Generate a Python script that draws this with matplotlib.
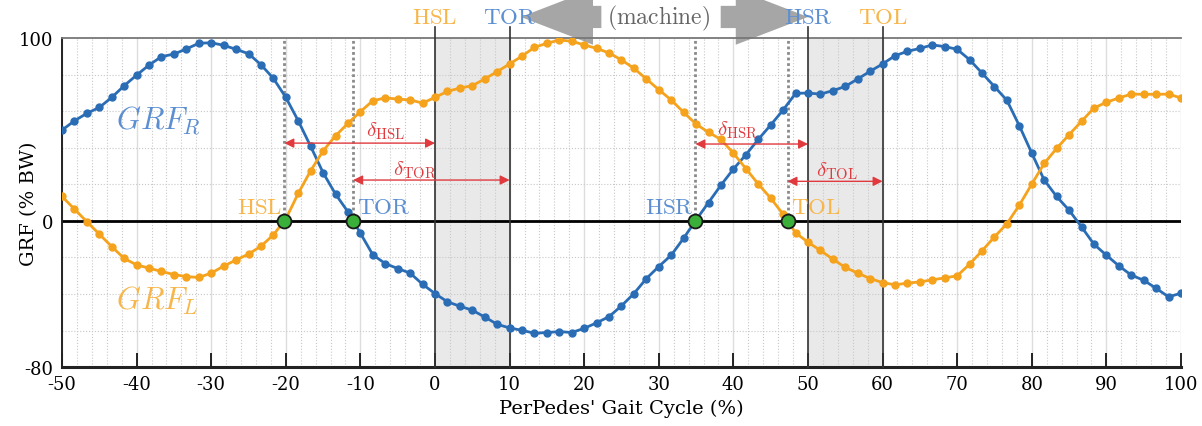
#!/usr/bin/env python3
import numpy as np
import matplotlib
matplotlib.use('Agg')
import matplotlib.pyplot as plt

plt.rcParams['font.family'] = ['DejaVu Serif']
plt.rcParams['mathtext.fontset'] = 'cm'
plt.rcParams['axes.unicode_minus'] = False

# ground reaction forces (% BW), sampled evenly from -50 % to 100 % gait cycle
grf_r = [49.6, 54.7, 58.8, 62.0, 67.5, 73.9, 79.7, 85.2, 89.8, 91.2,
         94.0, 97.1, 97.4, 96.0, 93.8, 91.4, 85.4, 77.9, 67.5, 54.7,
         40.7, 26.3, 14.6, 4.9, -6.8, -18.6, -23.4, -26.1, -28.6, -34.7,
         -39.8, -44.3, -46.7, -48.9, -52.6, -56.6, -58.6, -59.9, -61.5, -61.1,
         -60.6, -61.1, -58.8, -55.8, -52.4, -46.5, -39.8, -31.6, -25.0, -18.8,
         -9.5, 0.5, 10.0, 19.5, 28.3, 36.1, 44.5, 52.4, 60.6, 69.7,
         69.9, 69.3, 71.2, 73.5, 77.6, 81.8, 85.8, 90.3, 92.7, 94.3,
         96.2, 95.3, 93.8, 88.1, 80.8, 73.4, 65.9, 52.0, 37.0, 22.3,
         13.3, 5.8, -3.3, -12.8, -18.8, -24.6, -29.7, -32.5, -36.9, -41.6,
         -39.6]
grf_l = [13.3, 6.4, -0.5, -7.3, -14.1, -20.6, -24.1, -25.9, -27.7, -29.4,
         -30.5, -31.0, -28.6, -24.8, -21.4, -18.2, -13.9, -7.7, 1.0, 15.0,
         27.4, 38.3, 46.5, 53.3, 59.7, 65.7, 67.2, 66.6, 66.1, 64.4,
         67.5, 70.8, 72.6, 73.9, 77.6, 81.6, 85.8, 90.1, 94.9, 97.1,
         98.9, 98.2, 96.2, 94.3, 91.8, 88.0, 83.4, 77.6, 71.7, 66.1,
         59.3, 52.9, 48.4, 44.5, 37.0, 28.6, 20.1, 12.4, 3.6, -6.6,
         -11.7, -16.2, -21.0, -25.5, -28.6, -31.6, -33.8, -35.0, -34.1, -33.4,
         -32.3, -31.2, -30.1, -23.7, -16.4, -8.8, -1.6, 8.6, 20.1, 31.4,
         39.6, 47.1, 54.4, 61.7, 64.8, 67.2, 69.3, 69.2, 69.2, 69.3,
         67.2]

# gait events detected by the machine (% gait cycle)
machine_names = ['HSL', 'TOR', 'HSR', 'TOL']
machine_pos = [0, 10, 50, 60]

# delta annotation: arrow height, label x, label y
delta_arrow_y = [42.5, 22.3, 42.0, 21.6]
delta_text_x = [-6.7, -2.7, 40.5, 53.8]
delta_text_y = [49.6, 28.3, 50.0, 27.7]

BLUE = '#2a6db5'
ORANGE = '#f5a21d'
BLUE_TXT = '#5b8fd2'
ORANGE_TXT = '#f8b64a'
RED = '#e0393e'


def crossing(x, y, lo, hi):
    x = np.asarray(x)
    y = np.asarray(y)
    for i in range(len(x) - 1):
        if lo <= x[i] <= hi and np.sign(y[i]) != np.sign(y[i + 1]):
            return x[i] + (x[i + 1] - x[i]) * y[i] / (y[i] - y[i + 1])
    return None


def run():
    x = np.linspace(-50, 100, len(grf_r))

    # events from zero crossings of the force curves
    hsl = crossing(x, grf_l, -30, 0)
    tor = crossing(x, grf_r, -30, 0)
    hsr = crossing(x, grf_r, 20, 50)
    tol = crossing(x, grf_l, 20, 50)
    events = [hsl, tor, hsr, tol]
    ev_colors = [ORANGE_TXT, BLUE_TXT, BLUE_TXT, ORANGE_TXT]

    fig = plt.figure(figsize=(12.02, 4.27), dpi=100)
    ax = fig.add_axes([0.0516, 0.138, 0.9309, 0.7707])

    ax.set_xlim(-50, 100)
    ax.set_ylim(-80, 100)
    ax.set_xticks(range(-50, 101, 10))
    ax.set_xticks(np.arange(-50, 101, 2), minor=True)
    ax.set_yticks([-80, 0, 100])
    ax.set_yticks(range(-80, 101, 20), minor=True)
    ax.set_axisbelow(True)
    ax.grid(which='major', axis='x', color='#dddddd', lw=1)
    ax.grid(which='minor', color='#c8c8c8', ls=':', lw=0.8)
    ax.tick_params(axis='x', which='major', direction='in', length=10,
                   width=1.2, labelsize=13, pad=6)
    ax.tick_params(axis='y', which='major', length=0, labelsize=13, pad=6)
    ax.tick_params(which='minor', length=0)

    for s in ['left', 'bottom']:
        ax.spines[s].set_color('#222222')
    ax.spines['left'].set_linewidth(1.4)
    ax.spines['bottom'].set_linewidth(2.2)
    ax.spines['top'].set_color('#777777')
    ax.spines['top'].set_linewidth(1.3)
    ax.spines['right'].set_visible(False)

    # machine phases
    ax.axvspan(machine_pos[0], machine_pos[1], color='#e9e9e9', zorder=0.2, lw=0)
    ax.axvspan(machine_pos[2], machine_pos[3], color='#e9e9e9', zorder=0.2, lw=0)
    for mx in machine_pos:
        ax.plot([mx, mx], [-80, 106], color='#333333', lw=1.2,
                clip_on=False, zorder=3)

    ax.text(30, 111.5, r'$\mathrm{(machine)}$', color='#666666', fontsize=17,
            ha='center', va='center', clip_on=False)
    arrow = dict(arrowstyle='simple,head_length=2.6,head_width=2,tail_width=0.8',
                 mutation_scale=20, fc='#777777', ec='none', alpha=0.65,
                 shrinkA=0, shrinkB=0)
    ax.annotate('', xy=(11.5, 111.5), xytext=(22.3, 111.5),
                arrowprops=arrow, annotation_clip=False)
    ax.annotate('', xy=(50.0, 111.5), xytext=(38.3, 111.5),
                arrowprops=arrow, annotation_clip=False)

    for mx, name, c in zip(machine_pos, machine_names, ev_colors):
        ax.text(mx, 111.5, r'$\mathrm{%s}$' % name, color=c, fontsize=16.5,
                ha='center', va='center', clip_on=False, zorder=6)

    # detected events
    for e in events:
        ax.plot([e, e], [0, 100], color='#8a8a8a', ls=(0, (1, 1)), lw=2,
                zorder=2)
    ax.axhline(0, color='black', lw=2, zorder=2)

    ax.plot(x, grf_r, '-o', color=BLUE, ms=5, lw=2, zorder=4)
    ax.plot(x, grf_l, '-o', color=ORANGE, ms=5, lw=2, zorder=4)

    ax.plot(events, [0] * len(events), 'o', ms=10, mfc='#3ab03a',
            mec='#1a1a1a', mew=1.3, zorder=6)

    ha = ['right', 'left', 'right', 'left']
    off = [-0.3, 0.5, -0.3, 0.5]
    for e, name, c, h, o in zip(events, machine_names, ev_colors, ha, off):
        ax.text(e + o, 4.5, r'$\mathrm{%s}$' % name, color=c, fontsize=16.5,
                ha=h, va='baseline')

    # delays between detected and machine events
    for e, mx, ay, tx, ty, name in zip(events, machine_pos, delta_arrow_y,
                                       delta_text_x, delta_text_y, machine_names):
        ax.annotate('', xy=(mx, ay), xytext=(e, ay),
                    arrowprops=dict(arrowstyle='<|-|>', color=RED, lw=1,
                                    mutation_scale=14, shrinkA=0, shrinkB=0),
                    zorder=5)
        ax.text(tx, ty, r'$\delta_{\mathrm{%s}}$' % name, color=RED,
                fontsize=15, ha='center', va='center', zorder=5)

    ax.text(-42.8, 50.5, r'$GRF_R$', color=BLUE_TXT, fontsize=22)
    ax.text(-42.8, -48, r'$GRF_L$', color=ORANGE_TXT, fontsize=22)

    ax.set_xlabel("PerPedes' Gait Cycle (%)", fontsize=14, labelpad=4)
    ax.set_ylabel('GRF (% BW)', fontsize=14)
    ax.yaxis.set_label_coords(-0.021, 0.5)

    fig.savefig('out.png', dpi=100)


if __name__ == '__main__':
    run()
